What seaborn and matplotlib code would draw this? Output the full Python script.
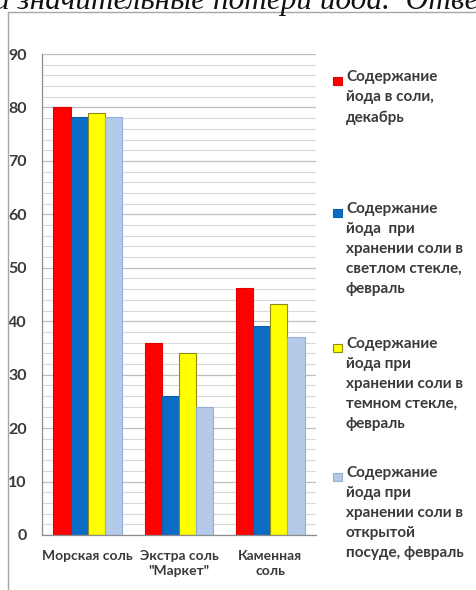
import pandas as pd
import matplotlib.pyplot as plt
import seaborn as sns
from matplotlib.patches import Rectangle
from matplotlib.lines import Line2D
from matplotlib.ticker import MultipleLocator, FixedLocator

# Данные: содержание йода в соли
salts = ["Морская соль", "Экстра соль\n\"Маркет\"", "Каменная\nсоль"]
series = [
    "Содержание\nйода в соли,\nдекабрь",
    "Содержание\nйода  при\nхранении соли в\nсветлом стекле,\nфевраль",
    "Содержание\nйода при\nхранении соли в\nтемном стекле,\nфевраль",
    "Содержание\nйода при\nхранении соли в\nоткрытой\nпосуде, февраль",
]
dec_values = [80, 36, 46.2]
light_glass = [78.2, 26, 39.1]
dark_glass = [79, 34, 43.3]
open_dish = [78.3, 24, 37]

colors = ["#FF0000", "#0A6CC4", "#FFFF00", "#B4CAE8"]
edges = ["#E00000", "#0A5FAE", "#8C8C10", "#93AFD6"]

rows = []
for s, vals in zip(series, [dec_values, light_glass, dark_glass, open_dish]):
    for salt, v in zip(salts, vals):
        rows.append({"salt": salt, "series": s, "value": v})
df = pd.DataFrame(rows)

sns.set_style("white")
plt.rcParams["font.family"] = ["Lato", "DejaVu Sans"]

W, H = 477, 590
fig = plt.figure(figsize=(W / 100, H / 100), dpi=100)
ax = fig.add_axes([42 / W, 1 - 535 / H, (316 - 42) / W, (535 - 54) / H])

sns.barplot(data=df, x="salt", y="value", hue="series", order=salts,
            hue_order=series, palette=colors, width=0.75, gap=0,
            saturation=1, ax=ax, legend=False)

for cont, ec in zip(ax.containers, edges):
    for bar in cont:
        bar.set_edgecolor(ec)
        bar.set_linewidth(0.8)

ax.set_ylim(0, 90)
ax.set_xlim(-0.5, 2.5)
ax.yaxis.set_major_locator(MultipleLocator(10))
ax.yaxis.set_minor_locator(MultipleLocator(2))
ax.xaxis.set_minor_locator(FixedLocator([-0.5, 0.5, 1.5, 2.5]))
ax.grid(which="major", axis="y", color="#BFBFBF", lw=0.9)
ax.grid(which="minor", axis="y", color="#DADADA", lw=0.8)
ax.set_axisbelow(True)

for side in ["top", "right"]:
    ax.spines[side].set_visible(False)
for side in ["left", "bottom"]:
    ax.spines[side].set_color("#8C8C8C")
    ax.spines[side].set_linewidth(0.9)

ax.tick_params(axis="y", which="major", length=4, color="#8C8C8C",
               labelsize=11.5, labelcolor="#3A3A3A", pad=7)
ax.tick_params(axis="y", which="minor", length=0)
ax.tick_params(axis="x", which="major", length=0, labelsize=10,
               labelcolor="#3A3A3A", pad=11)
ax.tick_params(axis="x", which="minor", length=5, color="#8C8C8C")
for lab in ax.get_yticklabels() + ax.get_xticklabels():
    lab.set_fontweight("bold")
for lab in ax.get_xticklabels():
    lab.set_linespacing(1.3)
ax.set_xlabel("")
ax.set_ylabel("")

# Легенда: отдельные блоки с разными отступами (центр первой строки, px)
first_line = [81, 213, 348, 477]
for s, c, ec, yc in zip(series, colors, edges, first_line):
    fig.add_artist(Rectangle((333 / W, 1 - (yc + 4) / H), 9 / W, 8 / H,
                             transform=fig.transFigure, facecolor=c,
                             edgecolor=ec, lw=0.8))
    fig.text(346 / W, 1 - (yc - 11) / H, s, fontsize=11, fontweight="bold",
             color="#3A3A3A", va="top", ha="left", linespacing=1.55)

# Рамка диаграммы
fig.add_artist(Line2D([8 / W, 8 / W, 1.0], [0, 1 - 11.5 / H, 1 - 11.5 / H],
                      transform=fig.transFigure, color="#A6A6A6", lw=1))

# Обрезанная строка текста документа сверху
fig.text(-0.012, 1 - 9 / H, "и значительные потери йода.  Отве",
         family="Liberation Serif", style="italic", fontsize=22.5,
         color="#111111", va="baseline", ha="left")

fig.savefig("out.png", dpi=100)
